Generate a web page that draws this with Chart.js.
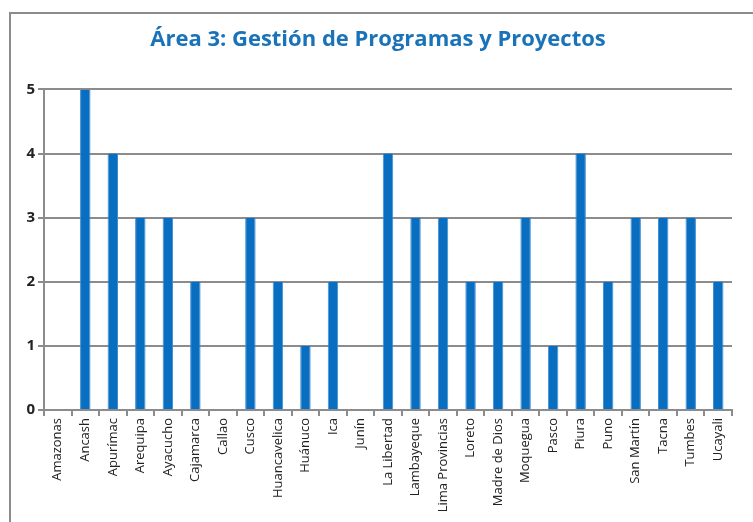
<!DOCTYPE html>
<html><head><meta charset="utf-8">
<script src="https://cdn.jsdelivr.net/npm/chart.js@4"></script>
<style>
html,body{margin:0;padding:0;background:#fff;width:753px;height:522px;overflow:hidden;}
#frame{position:absolute;left:9px;top:12px;width:800px;height:600px;border:2px solid #8c8c8c;box-sizing:border-box;}
#wrap{position:absolute;left:0;top:0;width:753px;height:522px;}
</style></head>
<body>
<div id="frame"></div>
<div id="wrap"><canvas id="c" width="753" height="522"></canvas></div>
<script>
const categories = ["Amazonas","Ancash","Apurímac","Arequipa","Ayacucho","Cajamarca","Callao","Cusco","Huancavelica","Huánuco","Ica","Junín","La Libertad","Lambayeque","Lima Provincias","Loreto","Madre de Dios","Moquegua","Pasco","Piura","Puno","San Martín","Tacna","Tumbes","Ucayali"];
const values = [0,5,4,3,3,2,0,3,2,1,2,0,4,3,3,2,2,3,1,4,2,3,3,3,2];
const yTicks = [0,1,2,3,4,5];
const titleText = "Área 3: Gestión de Programas y Proyectos";

new Chart(document.getElementById('c'), {
  type: 'bar',
  data: { labels: categories, datasets: [{ data: values, backgroundColor: '#0a6ec0', borderColor: '#3d8fd6', borderWidth: {left:1,right:1,top:0,bottom:0}, categoryPercentage: 1, barPercentage: 0.38 }] },
  options: {
    responsive: false, animation: false, devicePixelRatio: 1,
    layout: { padding: { left: 24, right: 21, top: 0, bottom: 0 } },
    plugins: {
      legend: { display: false }, tooltip: { enabled: false },
      title: { display: true, text: titleText, color: '#1a73b8',
        font: { family: 'Open Sans', size: 22, weight: 'bold' }, padding: { top: 27, bottom: 36 } }
    },
    scales: {
      x: {
        grid: { display: true, drawOnChartArea: false, drawTicks: true, tickLength: 6, color: '#8c8c8c', lineWidth: 2, offset: true },
        border: { color: '#8c8c8c', width: 2 },
        ticks: { minRotation: 90, maxRotation: 90, autoSkip: false, color: '#222', font: { family: 'Open Sans', size: 13 }, padding: 2 },
        afterFit: s => { s.height = 112; }
      },
      y: {
        min: 0, max: 5,
        afterBuildTicks: s => { s.ticks = yTicks.map(v => ({ value: v })); },
        grid: { color: '#8c8c8c', lineWidth: 2, drawTicks: true, tickLength: 6 },
        border: { color: '#8c8c8c', width: 2 },
        ticks: { color: '#222', font: { family: 'Open Sans', size: 15, weight: 'bold' }, padding: 3 },
        afterFit: s => { s.width = 20; }
      }
    }
  }
});
</script>
</body></html>
